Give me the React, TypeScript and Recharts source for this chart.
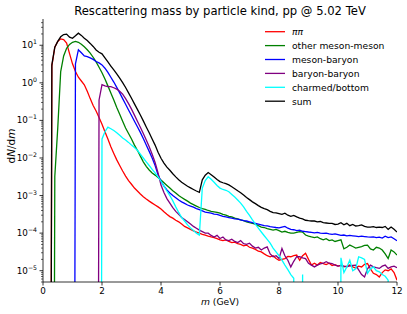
import React from "react";
import { LineChart, Line, XAxis, YAxis } from "recharts";

// empty histogram bins (drawn off the bottom of the log axis, as matplotlib does)
const EMPTY = 1e-30;
const E = EMPTY;

const M = [
  0, 0.1, 0.2, 0.3, 0.4, 0.5, 0.6, 0.7, 0.8, 0.9,
  1, 1.1, 1.2, 1.3, 1.4, 1.5, 1.6, 1.7, 1.8, 1.9,
  2, 2.1, 2.2, 2.3, 2.4, 2.5, 2.6, 2.7, 2.8, 2.9,
  3, 3.1, 3.2, 3.3, 3.4, 3.5, 3.6, 3.7, 3.8, 3.9,
  4, 4.1, 4.2, 4.3, 4.4, 4.5, 4.6, 4.7, 4.8, 4.9,
  5, 5.1, 5.2, 5.3, 5.4, 5.5, 5.6, 5.7, 5.8, 5.9,
  6, 6.1, 6.2, 6.3, 6.4, 6.5, 6.6, 6.7, 6.8, 6.9,
  7, 7.1, 7.2, 7.3, 7.4, 7.5, 7.6, 7.7, 7.8, 7.9,
  8, 8.1, 8.2, 8.3, 8.4, 8.5, 8.6, 8.7, 8.8, 8.9,
  9, 9.1, 9.2, 9.3, 9.4, 9.5, 9.6, 9.7, 9.8, 9.9,
  10, 10.1, 10.2, 10.3, 10.4, 10.5, 10.6, 10.7, 10.8, 10.9,
  11, 11.1, 11.2, 11.3, 11.4, 11.5, 11.6, 11.7, 11.8, 11.9,
  12,
];

const PIPI = [
  E, E, E, 2.8, 8.9, 12.6, 14.8, 14.1, 11.5, 6.0,
  3.2, 2.0, 1.41, 1.12, 0.89, 0.6, 0.38, 0.25, 0.178, 0.12,
  0.079, 0.05, 0.032, 0.02, 0.0132, 8.9e-3, 6.3e-3, 4.5e-3, 3.3e-3, 2.5e-3,
  2.0e-3, 1.58e-3, 1.32e-3, 1.1e-3, 9.3e-4, 8.1e-4, 7.1e-4, 6.3e-4, 5.6e-4, 5.0e-4,
  4.4e-4, 3.7e-4, 3.16e-4, 2.75e-4, 2.5e-4, 2.2e-4, 2.0e-4, 1.74e-4, 1.51e-4, 1.38e-4,
  1.26e-4, 1.15e-4, 1.07e-4, 1.0e-4, 9.3e-5, 8.9e-5, 8.3e-5, 7.9e-5, 7.6e-5, 7.1e-5,
  6.6e-5, 6.3e-5, 6.6e-5, 6.0e-5, 5.6e-5, 5.75e-5, 5.25e-5, 5.0e-5, 4.6e-5, 4.8e-5,
  4.2e-5, 4.0e-5, 3.7e-5, 3.3e-5, 3.16e-5, 2.8e-5, 2.5e-5, 2.35e-5, 2.5e-5, 2.1e-5,
  1.9e-5, 2.0e-5, 2.1e-5, 2.4e-5, 2.35e-5, 2.5e-5, 2.6e-5, 1.9e-5, 2.5e-5, 2.9e-5,
  2.0e-5, 1.41e-5, 1.58e-5, 1.41e-5, 1.66e-5, 1.55e-5, 1.45e-5, 1.58e-5, 1.38e-5, 1.45e-5,
  1.32e-5, 1.38e-5, 1.26e-5, 1.32e-5, 1.41e-5, 1.26e-5, 1.17e-5, 1.32e-5, 1.26e-5, 1.48e-5,
  1.55e-5, 1.12e-5, 8.5e-6, 7.9e-6, 6.8e-6, 8.9e-6, 1.05e-5, 1.0e-5, 1.12e-5, 8.9e-6,
  5.6e-6,
];

const MESON_MESON = [
  E, E, E, E, 3.2e-3, 0.063, 2.0, 5.2, 8.3, 10.5,
  12, 12.6, 12, 10.7, 9.1, 7.6, 6.2, 4.8, 3.6, 2.6,
  1.86, 1.26, 0.83, 0.54, 0.35, 0.22, 0.145, 0.095, 0.063, 0.045,
  0.032, 0.022, 0.016, 0.0112, 7.9e-3, 6.0e-3, 4.8e-3, 4.0e-3, 3.5e-3, 3.0e-3,
  2.6e-3, 2.2e-3, 1.86e-3, 1.58e-3, 1.35e-3, 1.17e-3, 1.0e-3, 8.9e-4, 7.9e-4, 7.1e-4,
  6.3e-4, 5.75e-4, 5.25e-4, 4.8e-4, 4.5e-4, 4.3e-4, 4.0e-4, 3.8e-4, 3.7e-4, 3.55e-4,
  3.4e-4, 3.16e-4, 3.0e-4, 2.8e-4, 2.7e-4, 2.5e-4, 2.4e-4, 2.25e-4, 2.14e-4, 2.0e-4,
  1.9e-4, 1.82e-4, 1.74e-4, 1.58e-4, 1.45e-4, 1.41e-4, 1.32e-4, 1.26e-4, 1.2e-4, 1.26e-4,
  1.17e-4, 1.07e-4, 1.12e-4, 1.05e-4, 1.0e-4, 1.0e-4, 1.05e-4, 1.1e-4, 1.07e-4, 8.9e-5,
  8.3e-5, 7.9e-5, 7.6e-5, 7.9e-5, 7.1e-5, 6.6e-5, 7.1e-5, 6.3e-5, 6.6e-5, 6.0e-5,
  6.3e-5, 6.6e-5, 3.8e-5, 4.2e-5, 4.8e-5, 4.4e-5, 4.0e-5, 4.2e-5, 4.4e-5, 4.7e-5,
  4.8e-5, 3.8e-5, 3.55e-5, 4.2e-5, 4.0e-5, 3.55e-5, 2.8e-5, 2.1e-5, 3.55e-5, 3.16e-5,
  2.6e-5,
];

const MESON_BARYON = [
  E, E, E, E, E, E, E, E, E, E,
  E, 3.2, 7.6, 6.3, 5.2, 5.0, 4.6, 4.2, 3.7, 3.4,
  3.0, 2.45, 1.9, 1.41, 1.05, 0.76, 0.54, 0.38, 0.27, 0.19,
  0.135, 0.095, 0.068, 0.048, 0.033, 0.022, 0.015, 0.01, 6.3e-3, 3.55e-3,
  2.4e-3, 1.78e-3, 1.41e-3, 1.17e-3, 1.0e-3, 8.7e-4, 7.6e-4, 6.8e-4, 6.2e-4, 5.6e-4,
  5.25e-4, 4.9e-4, 4.5e-4, 4.2e-4, 3.9e-4, 3.6e-4, 3.5e-4, 3.4e-4, 3.2e-4, 3.16e-4,
  2.95e-4, 2.8e-4, 2.7e-4, 2.6e-4, 2.5e-4, 2.4e-4, 2.35e-4, 2.25e-4, 2.14e-4, 2.1e-4,
  2.0e-4, 1.9e-4, 1.82e-4, 1.74e-4, 1.66e-4, 1.58e-4, 1.55e-4, 1.48e-4, 1.45e-4, 1.41e-4,
  1.38e-4, 1.45e-4, 1.51e-4, 1.35e-4, 1.26e-4, 1.23e-4, 1.17e-4, 1.2e-4, 1.12e-4, 1.1e-4,
  1.07e-4, 1.05e-4, 1.02e-4, 1.05e-4, 1.0e-4, 9.8e-5, 1.0e-4, 9.5e-5, 9.3e-5, 9.5e-5,
  9.1e-5, 8.7e-5, 8.9e-5, 8.5e-5, 8.7e-5, 8.5e-5, 8.3e-5, 8.1e-5, 8.3e-5, 8.1e-5,
  7.9e-5, 7.8e-5, 7.9e-5, 7.6e-5, 7.8e-5, 7.4e-5, 8.3e-5, 7.6e-5, 7.9e-5, 7.1e-5,
  6.3e-5,
];

const BARYON_BARYON = [
  E, E, E, E, E, E, E, E, E, E,
  E, E, E, E, E, E, E, E, E, 0.35,
  0.89, 0.83, 0.79, 0.79, 0.74, 0.68, 0.6, 0.5, 0.38, 0.28,
  0.2, 0.138, 0.095, 0.066, 0.045, 0.03, 0.02, 0.0126, 7.6e-3, 4.0e-3,
  1.9e-3, 1.2e-3, 8.3e-4, 6.3e-4, 4.8e-4, 3.8e-4, 3.16e-4, 2.6e-4, 2.3e-4, 2.0e-4,
  1.74e-4, 1.51e-4, 1.35e-4, 1.2e-4, 1.1e-4, 1.0e-4, 1.0e-4, 8.7e-5, 7.9e-5, 8.7e-5,
  7.2e-5, 7.9e-5, 6.6e-5, 6.3e-5, 6.9e-5, 6.0e-5, 5.6e-5, 6.3e-5, 5.25e-5, 5.0e-5,
  5.4e-5, 4.5e-5, 4.0e-5, 4.2e-5, 3.55e-5, 4.0e-5, 4.3e-5, 2.8e-5, 2.35e-5, 2.5e-5,
  2.1e-5, 3.9e-5, 2.5e-5, 1.9e-5, 1.26e-5, 1.78e-5, 2.35e-5, 2.35e-5, 2.2e-5, 2.1e-5,
  1.58e-5, 1.41e-5, 1.26e-5, 1.41e-5, 1.51e-5, 1.58e-5, 1.74e-5, 1.58e-5, 1.55e-5, 1.41e-5,
  1.32e-5, 1.38e-5, 1.32e-5, 1.26e-5, 1.35e-5, 1.38e-5, 1.41e-5, 1.05e-5, 7.9e-6, 6.8e-6,
  1.12e-5, 1.41e-5, 1.26e-5, 1.2e-5, 1.15e-5, 1.32e-5, 1.41e-5, 1.15e-5, 1.26e-5, 1.32e-5,
  1.2e-5,
];

const HEAVY = [
  E, E, E, E, E, E, E, E, E, E,
  E, E, E, E, E, E, E, E, E, E,
  0.032, 0.05, 0.066, 0.06, 0.054, 0.047, 0.04, 0.034, 0.03, 0.026,
  0.022, 0.019, 0.016, 0.0126, 0.01, 7.9e-3, 6.3e-3, 5.0e-3, 4.0e-3, 3.16e-3,
  2.4e-3, 1.78e-3, 1.32e-3, 1.0e-3, 7.2e-4, 5.0e-4, 3.55e-4, 2.6e-4, 2.1e-4, 1.66e-4,
  1.38e-4, 1.17e-4, 1.0e-4, 8.9e-5, 1.58e-3, 2.5e-3, 3.16e-3, 2.7e-3, 2.25e-3, 1.86e-3,
  1.58e-3, 1.45e-3, 1.38e-3, 1.26e-3, 1.07e-3, 9.1e-4, 7.6e-4, 6.3e-4, 5.0e-4, 3.8e-4,
  2.95e-4, 2.25e-4, 1.74e-4, 1.35e-4, 1.07e-4, 8.5e-5, 6.8e-5, 5.4e-5, 4.0e-5, 3.16e-5,
  2.5e-5, 1.9e-5, 1.41e-5, 1.07e-5, 7.9e-6, 6.3e-6, E, E, 7.9e-6, E,
  E, E, E, E, E, E, E, E, E, E,
  E, 2.2e-5, 8.9e-6, 1.26e-5, 1.9e-5, 1.0e-5, 1.12e-5, 2.35e-5, 2.2e-5, 2.0e-5,
  8.5e-6, 1.12e-5, 1.26e-5, 1.0e-5, 9.3e-6, 7.9e-6, 7.1e-6, 5.6e-6, E, E,
  E,
];

const SUM = [
  E, E, E, 3.0, 8.9, 12.7, 16.8, 19.3, 19.8, 16.5,
  15.3, 17.8, 21, 18.3, 15.3, 13.3, 11.2, 9.3, 7.5, 6.5,
  5.9, 4.6, 3.6, 2.8, 2.2, 1.72, 1.33, 1.01, 0.75, 0.54,
  0.39, 0.276, 0.196, 0.139, 0.097, 0.067, 0.047, 0.032, 0.022, 0.0142,
  9.8e-3, 7.3e-3, 5.7e-3, 4.7e-3, 3.8e-3, 3.14e-3, 2.64e-3, 2.26e-3, 2.0e-3, 1.77e-3,
  1.6e-3, 1.45e-3, 1.32e-3, 1.21e-3, 2.62e-3, 3.48e-3, 4.09e-3, 3.59e-3, 3.1e-3, 2.69e-3,
  2.35e-3, 2.19e-3, 2.08e-3, 1.92e-3, 1.72e-3, 1.52e-3, 1.34e-3, 1.19e-3, 1.03e-3, 8.9e-4,
  7.8e-4, 6.8e-4, 6.1e-4, 5.4e-4, 4.85e-4, 4.5e-4, 4.2e-4, 3.8e-4, 3.5e-4, 3.45e-4,
  3.3e-4, 3.16e-4, 3.4e-4, 3.0e-4, 2.8e-4, 2.95e-4, 2.7e-4, 2.5e-4, 2.4e-4, 2.2e-4,
  2.14e-4, 2.1e-4, 2.1e-4, 2.0e-4, 2.04e-4, 1.9e-4, 1.86e-4, 1.82e-4, 1.82e-4, 1.7e-4,
  1.74e-4, 1.9e-4, 1.66e-4, 1.82e-4, 1.58e-4, 1.7e-4, 1.55e-4, 1.58e-4, 1.66e-4, 1.51e-4,
  1.45e-4, 1.45e-4, 1.48e-4, 1.41e-4, 1.45e-4, 1.41e-4, 1.51e-4, 1.26e-4, 1.45e-4, 1.26e-4,
  1.07e-4,
];

const SERIES = [
  { key: "pipi", label: "ππ", italic: true, color: "#ff0000", values: PIPI },
  { key: "mm", label: "other meson-meson", italic: false, color: "#008000", values: MESON_MESON },
  { key: "mb", label: "meson-baryon", italic: false, color: "#0000ff", values: MESON_BARYON },
  { key: "bb", label: "baryon-baryon", italic: false, color: "#800080", values: BARYON_BARYON },
  { key: "hf", label: "charmed/bottom", italic: false, color: "#00ffff", values: HEAVY },
  { key: "sum", label: "sum", italic: false, color: "#000000", values: SUM },
];

const X_TICKS = [0, 2, 4, 6, 8, 10, 12];
const Y_MAJOR = [1e-5, 1e-4, 1e-3, 1e-2, 1e-1, 1, 10];
const Y_DOMAIN: [number, number] = [5e-6, 50];

const Y_TICKS: number[] = [];
for (let d = -6; d <= 1; d++) {
  for (let k = 1; k <= 9; k++) {
    const v = k * Math.pow(10, d);
    if (v >= Y_DOMAIN[0] * 0.999 && v < Y_DOMAIN[1]) Y_TICKS.push(v);
  }
}

const data = M.map((m, i) => {
  const row: Record<string, number> = { m };
  SERIES.forEach((s) => {
    row[s.key] = s.values[i];
  });
  return row;
});

const FONT = "DejaVu Sans, Verdana, sans-serif";

const YTick = (props: any) => {
  const { x, y, payload } = props;
  const v = payload.value;
  const exp = Math.round(Math.log10(v));
  const major = Y_MAJOR.some((t) => Math.abs(t - v) < t * 1e-6);
  return (
    <g>
      <line x1={x} x2={x - (major ? 3.5 : 2)} y1={y} y2={y} stroke="#000" strokeWidth={major ? 0.8 : 0.6} />
      {major && (
        <text x={x - 6} y={y + 3} textAnchor="end" fontSize={8.8} fontFamily={FONT} fill="#000">
          10
          <tspan dy={-4} fontSize={6.2}>
            {exp < 0 ? "\u2212" + -exp : String(exp)}
          </tspan>
        </text>
      )}
    </g>
  );
};

const XTick = (props: any) => {
  const { x, y, payload } = props;
  return (
    <g>
      <line x1={x} x2={x} y1={y} y2={y + 3.5} stroke="#000" strokeWidth={0.8} />
      <text x={x} y={y + 11.5} textAnchor="middle" fontSize={8.8} fontFamily={FONT} fill="#000">
        {payload.value}
      </text>
    </g>
  );
};

export default function App() {
  const legendX = 265;
  const legendY0 = 31.7;
  const legendDy = 13.9;
  return (
    <div style={{ position: "absolute", left: 0, top: 0, width: 407, height: 314, background: "#fff" }}>
      <LineChart width={407} height={314} data={data} margin={{ top: 19, right: 10, bottom: 0, left: 0 }}>
        <XAxis
          dataKey="m"
          type="number"
          domain={[0, 12]}
          ticks={X_TICKS}
          interval={0}
          height={32}
          tickSize={0}
          tickMargin={0}
          tickLine={false}
          tick={<XTick />}
          axisLine={{ stroke: "#000", strokeWidth: 0.8 }}
          allowDataOverflow
        />
        <XAxis
          xAxisId="top"
          orientation="top"
          type="number"
          domain={[0, 12]}
          height={0}
          tick={false}
          tickLine={false}
          axisLine={{ stroke: "#000", strokeWidth: 0.8 }}
        />
        <YAxis
          type="number"
          scale="log"
          domain={Y_DOMAIN}
          allowDataOverflow
          ticks={Y_TICKS}
          interval={0}
          width={43}
          tickSize={0}
          tickMargin={0}
          tickLine={false}
          tick={<YTick />}
          axisLine={{ stroke: "#000", strokeWidth: 0.8 }}
        />
        <YAxis
          yAxisId="right"
          orientation="right"
          type="number"
          domain={[0, 1]}
          width={0}
          tick={false}
          tickLine={false}
          axisLine={{ stroke: "#000", strokeWidth: 0.8 }}
        />
        {SERIES.map((s) => (
          <Line
            key={s.key}
            dataKey={s.key}
            stroke={s.color}
            strokeWidth={1.3}
            dot={false}
            activeDot={false}
            type="linear"
            isAnimationActive={false}
          />
        ))}
      </LineChart>
      <svg
        width={407}
        height={314}
        style={{ position: "absolute", left: 0, top: 0, pointerEvents: "none" }}
      >
        <text x={220} y={14.5} textAnchor="middle" fontSize={11.6} fontFamily={FONT} fill="#000">
          Rescattering mass by particle kind, pp @ 5.02 TeV
        </text>
        <text x={220} y={305} textAnchor="middle" fontSize={9.2} fontFamily={FONT} fill="#000">
          <tspan fontStyle="italic">m</tspan> (GeV)
        </text>
        <text
          x={0}
          y={0}
          transform="translate(14.5,146) rotate(-90)"
          textAnchor="middle"
          fontSize={10.5}
          fontFamily={FONT}
          fill="#000"
        >
          d<tspan fontStyle="italic">N</tspan>/d<tspan fontStyle="italic">m</tspan>
        </text>
        {SERIES.map((s, i) => {
          const yy = legendY0 + i * legendDy;
          return (
            <g key={s.key}>
              <line x1={legendX} x2={legendX + 20} y1={yy} y2={yy} stroke={s.color} strokeWidth={1.3} />
              <text
                x={legendX + 27}
                y={yy + 3.3}
                fontSize={9.2}
                fontFamily={FONT}
                fill="#000"
                fontStyle={s.italic ? "italic" : "normal"}
              >
                {s.label}
              </text>
            </g>
          );
        })}
      </svg>
    </div>
  );
}
